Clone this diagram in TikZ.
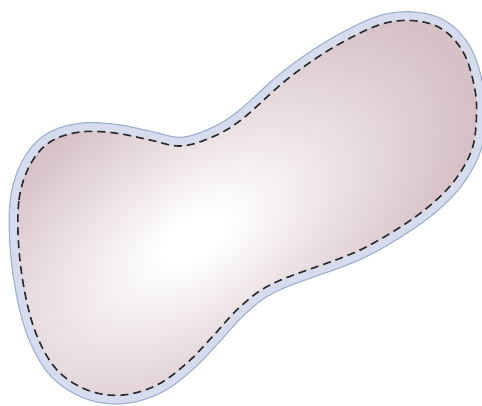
\documentclass[tikz,border=0pt]{standalone}
\definecolor{mauve}{RGB}{214,193,199}
\definecolor{bandfill}{RGB}{214,220,237}
\definecolor{bandedge}{RGB}{158,176,205}
\definecolor{dashcol}{RGB}{40,40,40}
\pgfdeclareradialshading{blobglow}{\pgfpointorigin}{color(0bp)=(white); color(6bp)=(white); color(25bp)=(mauve!45!white); color(50bp)=(mauve)}
\tikzset{
  bandouter/.style={draw=bandedge, line width=18.5pt, line join=round},
  bandinner/.style={draw=bandfill, line width=16pt, line join=round},
  dashline/.style={draw=dashcol, line width=1.6pt, dash pattern=on 8pt off 5pt}
}
\begin{document}
\begin{tikzpicture}[x=1pt,y=-1pt]
\useasboundingbox (0,0) rectangle (482,405);
\def\blob{plot[smooth cycle, tension=0.6] coordinates {
 (19,250) (19,200) (30,165) (50,142) (80,132) (115,133) (150,140) (180,146)
 (210,138) (241,120) (290,77) (341,43) (390,22) (434,25) (462,50) (475,90)
 (476,125) (471,152) (455,180) (433,203) (405,224) (370,245) (341,258) (274,283) (241,306)
 (213,336) (187,363) (157,385) (123,395) (90,391) (60,373) (40,343) (27,303)}}
\path[bandouter] \blob;
\path[bandinner] \blob;
\begin{scope}
  \clip \blob;
  \fill[mauve] (0,0) rectangle (482,405);
  \pgftransformshift{\pgfpoint{195pt}{-238pt}}
  \pgftransformrotate{34}
  \pgftransformxscale{6.2}
  \pgftransformyscale{3.2}
  \pgflowlevelsynccm
  \pgfuseshading{blobglow}
\end{scope}
\path[dashline] \blob;
\end{tikzpicture}
\end{document}
